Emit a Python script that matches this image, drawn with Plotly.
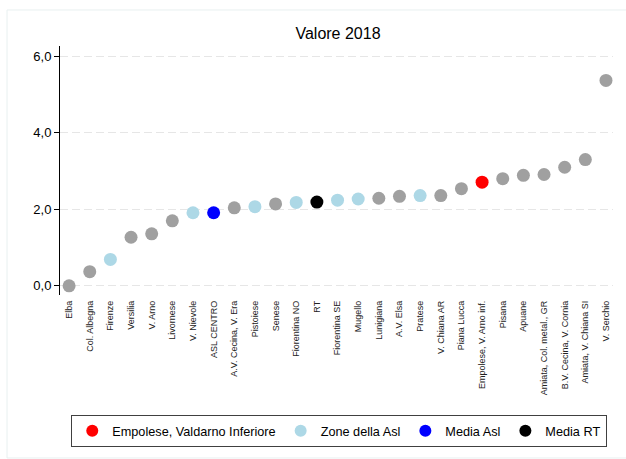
import plotly.graph_objects as go

categories = ["Elba", "Col. Albegna", "Firenze", "Versilia", "V. Arno", "Livornese",
              "V. Nievole", "ASL CENTRO", "A.V. Cecina, V. Era", "Pistoiese", "Senese",
              "Fiorentina NO", "RT", "Fiorentina SE", "Mugello", "Lunigiana", "A.V. Elsa",
              "Pratese", "V. Chiana AR", "Piana Lucca", "Empolese, V. Arno inf.", "Pisana",
              "Apuane", "Amiata, Col. metal., GR", "B.V. Cecina, V. Cornia",
              "Amiata, V. Chiana SI", "V. Serchio"]
values = [0.00, 0.37, 0.69, 1.27, 1.36, 1.70, 1.91, 1.91, 2.04, 2.07, 2.14, 2.18, 2.19,
          2.24, 2.27, 2.29, 2.34, 2.36, 2.36, 2.54, 2.71, 2.80, 2.89, 2.91, 3.10, 3.30, 5.37]
groups = ["altre", "altre", "asl", "altre", "altre", "altre", "asl", "media_asl", "altre",
          "asl", "altre", "asl", "media_rt", "asl", "asl", "altre", "altre", "asl", "altre",
          "altre", "zona", "altre", "altre", "altre", "altre", "altre", "altre"]

series = [
    ("altre", "Altre zone", "#a0a0a0", False),
    ("zona", "Empolese, Valdarno Inferiore", "#ff0000", True),
    ("asl", "Zone della Asl", "#add8e6", True),
    ("media_asl", "Media Asl", "#0000ff", True),
    ("media_rt", "Media RT", "#000000", True),
]

fig = go.Figure()
for key, name, color, show in series:
    xs = [c for c, g in zip(categories, groups) if g == key]
    ys = [v for v, g in zip(values, groups) if g == key]
    fig.add_trace(go.Scatter(
        x=xs, y=ys, mode="markers", name=name, showlegend=show,
        marker=dict(color=color, size=13, line=dict(width=0)),
    ))

fig.update_layout(
    width=626, height=459,
    margin=dict(l=60, r=13, t=46, b=164),
    paper_bgcolor="white", plot_bgcolor="white",
    separators=",.",
    font=dict(family="Liberation Sans, Arial, sans-serif", color="#000000"),
    title=dict(text="Valore 2018", x=338/626, xanchor="center",
               y=1 - 33/459, yanchor="middle", yref="container",
               font=dict(size=16, color="#000000")),
    showlegend=True,
    legend=dict(orientation="h", x=0.505, xanchor="center", y=-0.482, yanchor="top",
                bordercolor="#404040", borderwidth=1, font=dict(size=12.7),
                itemsizing="constant", traceorder="normal"),
    shapes=[dict(type="rect", xref="paper", yref="paper",
                 x0=-0.0958, x1=1.05, y0=-0.6546, y1=1.1446,
                 line=dict(color="#e8f0f0", width=1), layer="below")],
)
fig.update_xaxes(
    type="category", categoryorder="array", categoryarray=categories,
    range=[-0.44, 26.34], tickangle=-90, tickfont=dict(size=9, color="#222222"),
    showgrid=False, showline=False, zeroline=False, ticks="", ticklabelstandoff=3,
)
fig.update_yaxes(
    range=[-0.24, 6.27], tickvals=[0, 2, 4, 6], tickformat=".1f",
    tickfont=dict(size=13), showline=True, linecolor="#000000", linewidth=1,
    ticks="outside", ticklen=5, tickcolor="#000000",
    showgrid=True, gridcolor="#e6e6e6", griddash="8px,4px", gridwidth=1,
    zeroline=False,
)

fig.write_html("out.html", config={"displayModeBar": False},
               post_script="document.body.style.margin='0';document.body.style.overflow='hidden';")
